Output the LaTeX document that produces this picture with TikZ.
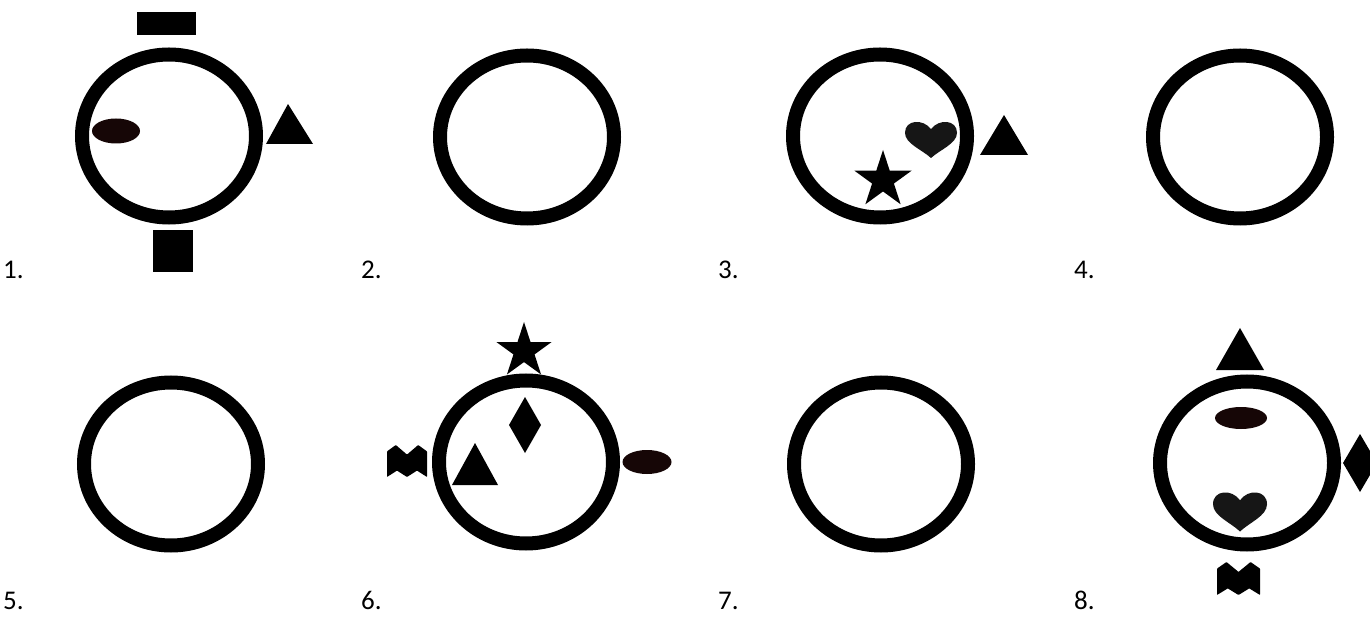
\documentclass[tikz,border=0pt]{standalone}
\usepackage{fontspec}
\setmainfont{Carlito}
\definecolor{ovalcol}{RGB}{22,6,6}
\definecolor{heartcol}{RGB}{22,22,22}
\tikzset{
  ring/.style={draw=black, line width=14pt},
  solid shape/.style={fill=black},
  numlabel/.style={anchor=base west, inner sep=0pt, font=\fontsize{27}{32}\selectfont},
  pics/bigstar/.style={code={
    \fill (-90:1) -- (-54:0.382) -- (-18:1) -- (18:0.382) -- (54:1) -- (90:0.382)
      -- (126:1) -- (162:0.382) -- (198:1) -- (234:0.382) -- cycle;}},
  pics/heartshape/.style={code={
    \fill[heartcol] (0,0.75) .. controls (-0.35,0.4) and (-1,0.15) .. (-1,-0.3)
      .. controls (-1,-0.85) and (-0.3,-0.9) .. (0,-0.45)
      .. controls (0.3,-0.9) and (1,-0.85) .. (1,-0.3)
      .. controls (1,0.15) and (0.35,0.4) .. (0,0.75) -- cycle;}},
  pics/batshape/.style={code={
    \fill[rounded corners=0.6pt] (0,0.2) -- (0.22,0) -- (0.5,0.3) -- (0.78,0) -- (1,0.2) -- (1,1)
      -- (0.75,0.8) -- (0.5,1) -- (0.25,0.8) -- (0,1) -- cycle;}},
}
\begin{document}
\begin{tikzpicture}[x=1pt, y=-1pt]
\useasboundingbox (0,0) rectangle (1370,617);
\fill[white] (0,0) rectangle (1370,617);

% ---------- Panel 1 ----------
\draw[ring] (169,136) ellipse [x radius=87, y radius=81.5];
\fill[solid shape] (137,12) rectangle (196,35);
\fill[solid shape] (153,230) rectangle (193,272);
\fill[ovalcol] (116,131) ellipse [x radius=24, y radius=12.5];
\fill[solid shape] (288,104) -- (313,144) -- (266,144) -- cycle;
\node[numlabel] (l1) at (3,279) {1.};

% ---------- Panel 2 ----------
\draw[ring] (527,137) ellipse [x radius=87, y radius=81.5];
\node[numlabel] (l2) at (361,279) {2.};

% ---------- Panel 3 ----------
\draw[ring] (880,136) ellipse [x radius=87, y radius=81.5];
\pic[xscale=26, yscale=24] at (931,140) {heartshape};
\pic[scale=30] at (883,180) {bigstar};
\fill[solid shape] (1004,115) -- (1028,155) -- (980,155) -- cycle;
\node[numlabel] (l3) at (718,279) {3.};

% ---------- Panel 4 ----------
\draw[ring] (1240,137) ellipse [x radius=87, y radius=81.5];
\node[numlabel] (l4) at (1074,279) {4.};

% ---------- Panel 5 ----------
\draw[ring] (171,464) ellipse [x radius=87, y radius=81.5];
\node[numlabel] (l5) at (3,609) {5.};

% ---------- Panel 6 ----------
\draw[ring] (526,462) ellipse [x radius=87, y radius=81.5];
\pic[scale=29] at (524,351) {bigstar};
\fill[solid shape] (525,397) -- (541,425) -- (525,453) -- (509,425) -- cycle;
\fill[solid shape] (475,443) -- (498,485) -- (452,485) -- cycle;
\fill[ovalcol] (647,462) ellipse [x radius=24.5, y radius=12];
\pic[xscale=40, yscale=32] at (387,445) {batshape};
\node[numlabel] (l6) at (361,609) {6.};

% ---------- Panel 7 ----------
\draw[ring] (881,464) ellipse [x radius=87, y radius=81.5];
\node[numlabel] (l7) at (718,609) {7.};

% ---------- Panel 8 ----------
\draw[ring] (1247,463) ellipse [x radius=87, y radius=81.5];
\fill[solid shape] (1240,328) -- (1264,370) -- (1216,370) -- cycle;
\fill[ovalcol] (1241,418) ellipse [x radius=26, y radius=11];
\pic[xscale=27, yscale=26] at (1240,512) {heartshape};
\fill[solid shape] (1360,434) -- (1377,463) -- (1360,492) -- (1343,463) -- cycle;
\pic[xscale=43, yscale=33] at (1217,562) {batshape};
\node[numlabel] (l8) at (1074,609) {8.};
\end{tikzpicture}
\end{document}
